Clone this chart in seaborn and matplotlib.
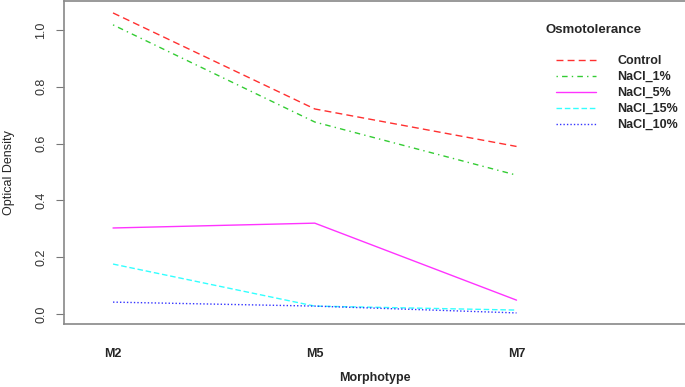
import matplotlib
matplotlib.use("Agg")
import matplotlib.pyplot as plt
import seaborn as sns
import pandas as pd
from matplotlib.lines import Line2D

sns.set_style("white")
plt.rcParams['font.family'] = ['Liberation Sans', 'DejaVu Sans']

morphotypes = ["M2", "M5", "M7"]
series_names = ["Control", "NaCl_1%", "NaCl_5%", "NaCl_15%", "NaCl_10%"]
control = [1.06, 0.722, 0.59]
nacl_1 = [1.018, 0.676, 0.489]
nacl_5 = [0.303, 0.32, 0.049]
nacl_15 = [0.176, 0.028, 0.014]
nacl_10 = [0.042, 0.028, 0.004]
y_ticks = [0.0, 0.2, 0.4, 0.6, 0.8, 1.0]

values = [control, nacl_1, nacl_5, nacl_15, nacl_10]
colors = ["#FF3030", "#33CC33", "#FF33FF", "#33FFFF", "#3333FF"]
dashes = [(5, 3), (1, 3, 4, 3), (), (4, 2), (1, 1.5)]

rows = []
for name, vals in zip(series_names, values):
    for m, v in zip(morphotypes, vals):
        rows.append({"Morphotype": m, "Optical Density": v, "Osmotolerance": name})
df = pd.DataFrame(rows)

fig = plt.figure(figsize=(6.85, 3.87), dpi=100)
ax = fig.add_axes([64 / 685, 63 / 387, 622 / 685, 323 / 387])

for name, c, d in zip(series_names, colors, dashes):
    sub = df[df["Osmotolerance"] == name]
    sns.lineplot(data=sub, x="Morphotype", y="Optical Density", color=c,
                 linewidth=1.0, ax=ax, sort=False, legend=False,
                 dashes=False)
    line = ax.lines[-1]
    if d:
        line.set_dashes(d)

ax.set_xlim(-0.243, 2.84)
ax.set_ylim(-0.035, 1.102)
ax.set_yticks(y_ticks)
ax.set_yticklabels([f"{t:.1f}" for t in y_ticks], rotation=90, va="center",
                   fontsize=9, color="#333333")
ax.tick_params(axis="y", length=6, width=0.8, color="#777777", pad=6, left=True)
ax.tick_params(axis="x", length=0, pad=17)
ax.set_xticks(range(len(morphotypes)))
ax.set_xticklabels(morphotypes, fontsize=9, fontweight="bold")
for s in ax.spines.values():
    s.set_color("#888888")
    s.set_linewidth(1.2)
ax.set_xlabel("Morphotype", fontsize=9, fontweight="bold", labelpad=9)
ax.set_ylabel("Optical Density", fontsize=9)
ax.yaxis.set_label_coords(-0.078, 0.47)

handles = []
for c, d in zip(colors, dashes):
    h = Line2D([0], [0], color=c, lw=1.0)
    if d:
        h.set_dashes(d)
    handles.append(h)

fig.text(545 / 685, 1 - 30 / 387, "Osmotolerance", fontsize=9.5,
         fontweight="bold", ha="left", va="center")
leg = fig.legend(handles, series_names, frameon=False,
                 loc="upper left", bbox_to_anchor=(556 / 685, 1 - 55 / 387),
                 borderpad=0, borderaxespad=0,
                 prop={"size": 9, "weight": "bold"}, handlelength=3.2,
                 handletextpad=1.7, labelspacing=0.32)

fig.savefig("out.png", dpi=100)
